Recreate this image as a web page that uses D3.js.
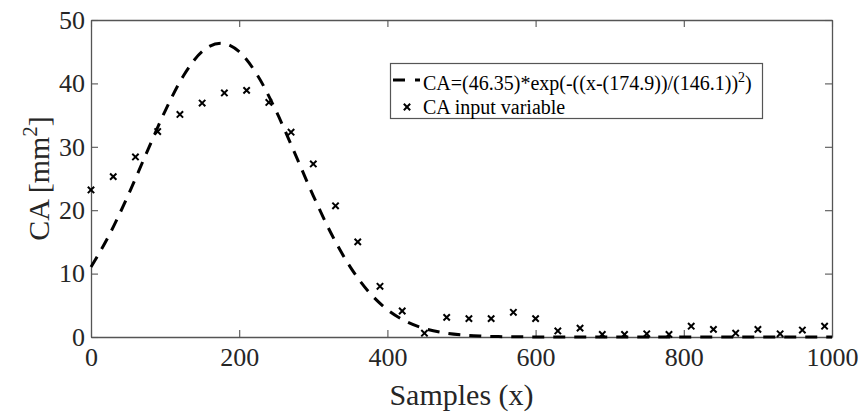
<!DOCTYPE html>
<html lang="en">
<head>
    <meta charset="utf-8" />
    <title>CA fit</title>
    <script src="https://d3js.org/d3.v7.min.js"></script>
    <style>
        body { margin: 0; background: #fff; }
        svg { display: block; font-family: "Liberation Serif", "Times New Roman", serif; }
    </style>
</head>
<body>
    <svg></svg>
    <script>
        // samples of the measured CA variable (every 30 samples)
        const sampleX = [0, 30, 60, 90, 120, 150, 180, 210, 240, 270, 300, 330, 360, 390, 420, 450, 480,
            510, 540, 570, 600, 630, 660, 690, 720, 750, 780, 810, 840, 870, 900, 930, 960, 990];
        const caInput = [23.2, 25.3, 28.4, 32.4, 35.1, 36.9, 38.5, 38.9, 37.0, 32.3, 27.3, 20.7, 15.0, 8.0, 4.1, 0.6, 3.1,
            2.9, 2.9, 3.9, 2.9, 0.95, 1.4, 0.4, 0.4, 0.5, 0.4, 1.7, 1.2, 0.6, 1.2, 0.5, 1.1, 1.7];

        // fitted curve (every 25 samples)
        const fitX = [0, 25, 50, 75, 100, 125, 150, 175, 200, 225, 250, 275, 300, 325, 350, 375, 400, 425, 450, 475,
            500, 525, 550, 575, 600, 625, 650, 675, 700, 725, 750, 775, 800, 825, 850, 875, 900, 925, 950, 975, 1000];
        const fitY = [11.05, 16.18, 22.32, 29.04, 35.64, 41.25, 45.02, 46.35, 45.00, 41.21, 35.59, 28.99, 22.27, 16.13,
            11.02, 7.10, 4.31, 2.47, 1.34, 0.68, 0.33, 0.15, 0.06, 0.03, 0.01, 0, 0, 0, 0, 0, 0, 0, 0, 0, 0, 0, 0, 0, 0, 0, 0];

        const xTicks = [0, 200, 400, 600, 800, 1000];
        const yTicks = [0, 10, 20, 30, 40, 50];
        const fitLabel = "CA=(46.35)*exp(-((x-(174.9))/(146.1))";
        const dataLabel = "CA input variable";

        let width = 865, height = 415;
        let margin = { left: 91, right: 33, top: 20, bottom: 78 };
        let axisColor = "#555", textColor = "#262626";

        let svg = d3.select("svg")
            .attr("width", width)
            .attr("height", height)
            .attr("viewBox", "0 0 " + width + " " + height);

        let x = d3.scaleLinear().domain([0, 1000]).range([margin.left, width - margin.right]);
        let y = d3.scaleLinear().domain([0, 50]).range([height - margin.bottom, margin.top]);

        // axes (ticks inward, box on)
        let bottomAxis = svg.append("g")
            .attr("transform", "translate(0," + y(0) + ")")
            .call(d3.axisBottom(x).tickValues(xTicks).tickFormat(d3.format("d"))
                .tickSizeInner(-7).tickSizeOuter(0).tickPadding(15));
        let topAxis = svg.append("g")
            .attr("transform", "translate(0," + y(50) + ")")
            .call(d3.axisTop(x).tickValues(xTicks).tickSizeInner(-7).tickSizeOuter(0).tickFormat(""));
        let leftAxis = svg.append("g")
            .attr("transform", "translate(" + x(0) + ",0)")
            .call(d3.axisLeft(y).tickValues(yTicks).tickSizeInner(-7).tickSizeOuter(0).tickPadding(15));
        let rightAxis = svg.append("g")
            .attr("transform", "translate(" + x(1000) + ",0)")
            .call(d3.axisRight(y).tickValues(yTicks).tickSizeInner(-7).tickSizeOuter(0).tickFormat(""));

        [bottomAxis, topAxis, leftAxis, rightAxis].forEach(a => {
            a.select(".domain").attr("stroke", axisColor).attr("stroke-width", 1.3);
            a.selectAll(".tick line").attr("stroke", axisColor).attr("stroke-width", 1.1);
            a.selectAll(".tick text")
                .attr("fill", textColor)
                .style("font-family", "'Liberation Serif', serif")
                .style("font-size", "26px");
        });
        bottomAxis.selectAll(".tick text").attr("dy", "0.55em");
        leftAxis.selectAll(".tick text").attr("dx", "0.35em");

        // fitted curve
        let line = d3.line()
            .x((d, i) => x(fitX[i]))
            .y(d => y(d))
            .curve(d3.curveMonotoneX);

        svg.append("path")
            .datum(fitY)
            .attr("d", line)
            .attr("fill", "none")
            .attr("stroke", "#000")
            .attr("stroke-width", 3)
            .attr("stroke-dasharray", "12,9");

        // cross markers
        let cross = d3.symbol().type(d3.symbolTimes).size(28);
        svg.append("g")
            .selectAll("path")
            .data(caInput)
            .enter()
            .append("path")
            .attr("d", cross)
            .attr("transform", (d, i) => "translate(" + x(sampleX[i]) + "," + y(d) + ")")
            .attr("fill", "none")
            .attr("stroke", "#000")
            .attr("stroke-width", 2);

        // axis labels
        svg.append("text")
            .attr("x", (x(0) + x(1000)) / 2)
            .attr("y", 405)
            .attr("text-anchor", "middle")
            .attr("fill", textColor)
            .style("font-size", "30px")
            .text("Samples (x)");

        let ylab = svg.append("text")
            .attr("transform", "translate(49," + (y(0) + y(50)) / 2 + ") rotate(-90)")
            .attr("text-anchor", "middle")
            .attr("fill", textColor)
            .style("font-size", "30px");
        ylab.append("tspan").text("CA [mm");
        ylab.append("tspan").attr("dy", -12).style("font-size", "21px").text("2");
        ylab.append("tspan").attr("dy", 12).text("]");

        // legend
        let legend = svg.append("g");
        legend.append("rect")
            .attr("x", 390.5).attr("y", 63.5)
            .attr("width", 372).attr("height", 55)
            .attr("fill", "#fff")
            .attr("stroke", axisColor)
            .attr("stroke-width", 1.2);
        legend.append("line")
            .attr("x1", 393).attr("x2", 420)
            .attr("y1", 80).attr("y2", 80)
            .attr("stroke", "#000")
            .attr("stroke-width", 3)
            .attr("stroke-dasharray", "12,10");
        let lt = legend.append("text")
            .attr("x", 423).attr("y", 90)
            .attr("fill", "#000")
            .style("font-size", "20px");
        lt.append("tspan").text(fitLabel);
        lt.append("tspan").attr("dy", -8).style("font-size", "14px").text("2");
        lt.append("tspan").attr("dy", 8).text(")");

        legend.append("path")
            .attr("d", cross)
            .attr("transform", "translate(407,107)")
            .attr("fill", "none")
            .attr("stroke", "#000")
            .attr("stroke-width", 2);
        legend.append("text")
            .attr("x", 423).attr("y", 114)
            .attr("fill", "#000")
            .style("font-size", "20px")
            .text(dataLabel);
    </script>
</body>
</html>
